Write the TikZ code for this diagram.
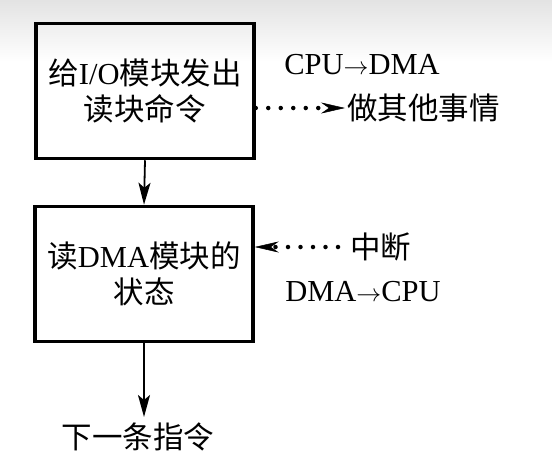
\documentclass[tikz,border=0pt]{standalone}
\usepackage{fontspec}
\setmainfont{Liberation Serif}
\newfontfamily\cjk{Noto Sans CJK SC}
\usetikzlibrary{arrows.meta,calc}

\begin{document}
\begin{tikzpicture}[x=1pt,y=-1pt,
  caja/.style={draw, line width=3.5pt, minimum width=218pt, minimum height=135pt,
    align=center, inner sep=0pt, font=\fontsize{30.5}{36}\selectfont},
  texto/.style={inner sep=0pt, font=\fontsize{30.5}{36}\selectfont},
  flecha/.style={line width=1.8pt, -{Stealth[length=22pt,width=12pt,inset=5pt]}},
  puntos/.style={line width=4.5pt, line cap=round, dash pattern=on 0pt off 12.5pt,
    -{Stealth[length=24pt,width=11pt,line width=0.5pt]}}]
  \useasboundingbox (0,0) rectangle (552,475);

  % Fondo
  \shade[top color=gray!22, bottom color=white] (0,0) rectangle (552,62);

  % Cajas
  \node[caja] (orden) at (145,91) {{\cjk 给}I/O{\cjk 模块发出}\\{\cjk 读块命令}};
  \node[caja] (estado) at (144,274) {{\cjk 读}DMA{\cjk 模块的}\\{\cjk 状态}};
  \node[texto] (sig) at (138,437) {\cjk 下一条指令};

  % Textos laterales
  \node[texto] (cpudma) at (362,65) {CPU$\rightarrow$DMA};
  \node[texto, anchor=west] (otro) at (347,108) {\cjk 做其他事情};
  \node[texto, anchor=west] (intr) at (350,247) {\cjk 中断};
  \node[texto] (dmacpu) at (363,292) {DMA$\rightarrow$CPU};

  % Flechas
  \draw[flecha] (orden.south) -- (estado.north);
  \draw[flecha] (estado.south) -- (estado.south |- 0,417);
  \draw[puntos] (orden.east |- otro.west) -- ($(otro.west)+(-2,0)$);
  \draw[puntos] ($(intr.west)+(-12,0)$) -- (estado.east |- intr.west);
\end{tikzpicture}
\end{document}
